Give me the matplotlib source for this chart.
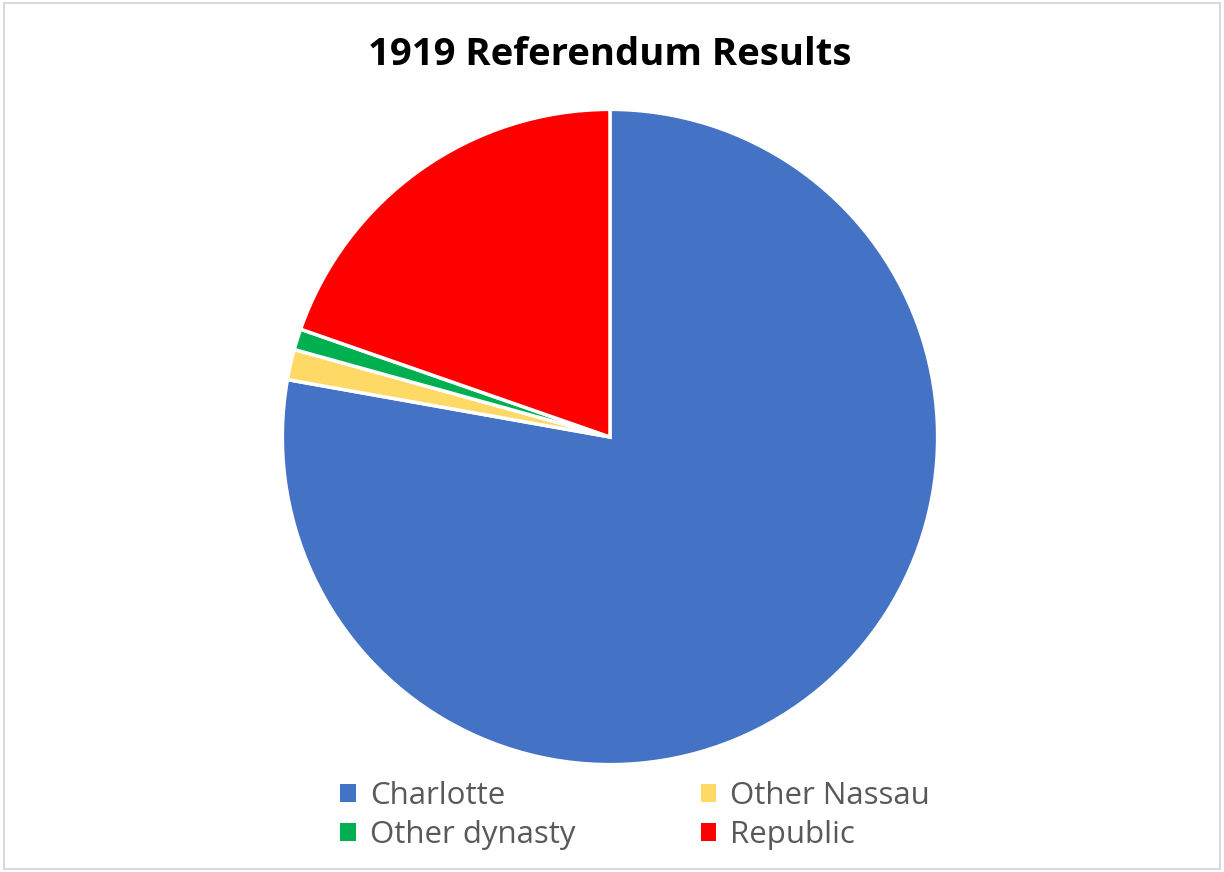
import matplotlib
matplotlib.use("Agg")
import matplotlib.pyplot as plt
from matplotlib.patches import Rectangle

plt.rcParams["font.family"] = ["Open Sans", "DejaVu Sans"]

labels = ["Charlotte", "Other Nassau", "Other dynasty", "Republic"]
votes = [66811, 1286, 889, 16885]
colors = ["#4472C4", "#FFD966", "#00B050", "#FF0000"]

fig = plt.figure(figsize=(12.24, 8.72), dpi=100)
fig.patches.append(Rectangle((0.003, 0.004), 0.994, 0.992, transform=fig.transFigure,
                             fill=False, edgecolor="#D9D9D9", lw=1.5))

ax = fig.add_axes([0.232, 0.125, 0.5327, 0.7477])
wedges, _ = ax.pie(votes, colors=colors, startangle=90, counterclock=False,
                   wedgeprops=dict(edgecolor="white", linewidth=2.5))
ax.set_xlim(-0.995, 0.995); ax.set_ylim(-0.995, 0.995)
ax.set_aspect("equal")
ax.axis("off")

fig.text(0.498, 0.937, "1919 Referendum Results", ha="center", va="center",
         fontsize=27.5, fontweight="bold", color="black")

# row-major order for a 2-col legend
order = [0, 2, 1, 3]
leg = fig.legend([wedges[i] for i in order], [labels[i] for i in order],
                 ncol=2, loc="center", bbox_to_anchor=(0.519, 0.065),
                 frameon=False, fontsize=22.5, handlelength=0.5, handleheight=0.5,
                 handletextpad=0.45, columnspacing=4.0, labelspacing=0.28, labelcolor="#595959")
for h in leg.legend_handles:
    h.set_linewidth(0)

fig.savefig("out.png", dpi=100)
